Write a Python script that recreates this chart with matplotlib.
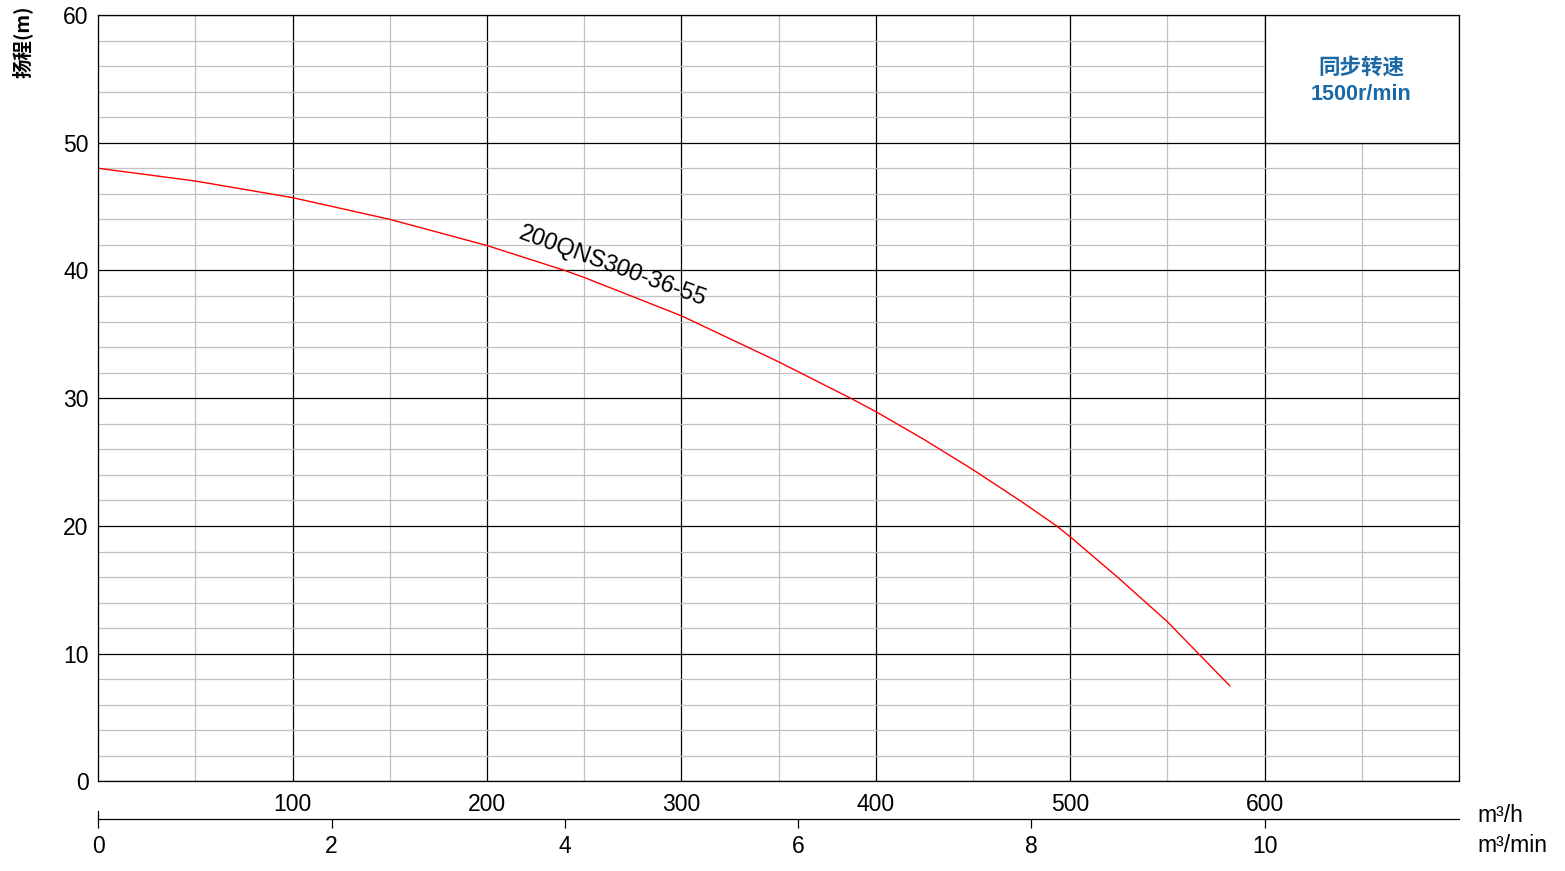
import matplotlib
matplotlib.use('Agg')
import matplotlib.pyplot as plt
from matplotlib.patches import Rectangle
import numpy as np

plt.rcParams['font.family'] = ['Liberation Sans', 'Noto Sans CJK SC', 'DejaVu Sans']

# pump curve: flow (m3/h) vs head (m)
flow = [0, 50, 100, 150, 200, 240, 250, 300, 350, 387, 400, 425, 450, 475, 493, 500, 525, 550, 566, 582]
head = [48.0, 47.0, 45.7, 44.0, 41.95, 40.0, 39.45, 36.45, 32.85, 30.0, 28.95, 26.75, 24.4, 21.9, 20.0,
        19.15, 15.9, 12.5, 10.0, 7.5]
model_name = '200QNS300-36-55'
speed_text = '同步转速\n1500r/min'

x_ticks = [100, 200, 300, 400, 500, 600]
y_ticks = [0, 10, 20, 30, 40, 50, 60]
min_ticks = [0, 2, 4, 6, 8, 10]

fig = plt.figure(figsize=(15.65, 8.71), dpi=100)
ax = fig.add_axes([0.0628, 0.1028, 0.8695, 0.8800])

ax.set_xlim(0, 700)
ax.set_ylim(0, 60)

#grid: black every 100 / 10, grey every 50 / 2
ax.set_xticks(x_ticks)
ax.set_xticks(np.arange(0, 701, 50), minor=True)
ax.set_yticks(y_ticks)
ax.set_yticks(np.arange(0, 61, 2), minor=True)
ax.grid(which='minor', color='#c0c0c0', lw=0.9)
ax.grid(which='major', color='black', lw=0.9)
ax.set_axisbelow(True)
ax.tick_params(which='both', length=0)
ax.tick_params(axis='x', labelsize=16.5, pad=8)
ax.tick_params(axis='y', labelsize=16.5, pad=7)
for s in ax.spines.values():
    s.set_linewidth(0.9)

# speed box top right
ax.add_patch(Rectangle((600, 50), 100, 10, facecolor='white', edgecolor='black', lw=0.9, zorder=1))
ax.text(649.6, 54.8, speed_text, ha='center', va='center', fontsize=15.5, fontweight='semibold',
        color='#1a69a6', family=['Liberation Sans', 'Noto Sans CJK SC'], linespacing=1.35, zorder=3)

ax.plot(flow, head, color='red', lw=1.0, zorder=2)
ax.text(263.6, 39.85, model_name, rotation=-20, rotation_mode='anchor', ha='center', va='baseline',
        fontsize=17, zorder=3)

# second flow axis in m3/min
sec = ax.secondary_xaxis(-0.0489, functions=(lambda q: q / 60.0, lambda m: m * 60.0))
sec.set_xticks(min_ticks)
sec.tick_params(direction='out', length=6.5, width=0.9, labelsize=16.5, pad=5)
sec.spines['bottom'].set_linewidth(0.9)
ax.plot([0, 0], [-0.0489, -0.038], transform=ax.transAxes, color='black', lw=0.9, clip_on=False)

fig.text(1477 / 1565, 1 - 815 / 871, 'm³/h', fontsize=16.5, ha='left', va='center')
fig.text(1477 / 1565, 1 - 845 / 871, 'm³/min', fontsize=16.5, ha='left', va='center')
fig.text(22 / 1565, 1 - 5 / 871, '扬程(m)', rotation=90, fontsize=14, fontweight='bold',
         ha='center', va='top', family=['Noto Sans CJK SC', 'Liberation Sans'])

fig.savefig('out.png', dpi=100)
